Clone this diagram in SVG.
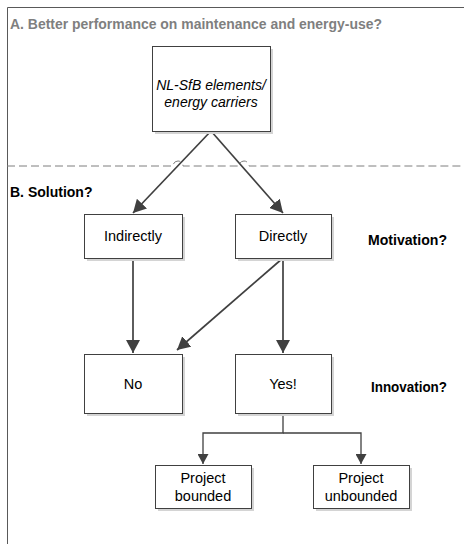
<svg xmlns="http://www.w3.org/2000/svg" width="464" height="544" viewBox="0 0 464 544">
<defs>
<marker id="ah" viewBox="0 0 10 10" refX="10" refY="5" markerWidth="13" markerHeight="14" markerUnits="userSpaceOnUse" orient="auto" preserveAspectRatio="none"><path d="M0,0 L10,5 L0,10 z" fill="#404040"/></marker>
<marker id="ahs" viewBox="0 0 10 10" refX="10" refY="5" markerWidth="10" markerHeight="11" markerUnits="userSpaceOnUse" orient="auto" preserveAspectRatio="none"><path d="M0,0 L10,5 L0,10 z" fill="#404040"/></marker>
</defs>
<style>
.box{fill:#fff;stroke:#404040;stroke-width:1}
.sh{fill:#d4d4d4}
.t{font-family:"Liberation Sans",Arial,sans-serif;font-size:14.5px;fill:#000;text-anchor:middle}
.it{font-style:italic;font-size:14px}
.lbl{font-family:"Liberation Sans",Arial,sans-serif;font-size:14px;font-weight:bold;fill:#000}
.c{fill:none;stroke:#404040;stroke-width:1.7}
.cs{fill:none;stroke:#404040;stroke-width:1.3}
</style>
<rect width="464" height="544" fill="#fff"/>
<path d="M7.5,544 V7.5 H464" fill="none" stroke="#595959" stroke-width="1"/>
<path d="M7,166 H173 a5,5 0 0 1 10,0 H239 a5,5 0 0 1 10,0 H464" fill="none" stroke="#7f7f7f" stroke-width="1" stroke-dasharray="8,4"/>
<text x="10" y="29" class="lbl" style="fill:#7f7f7f" textLength="372" lengthAdjust="spacingAndGlyphs">A. Better performance on maintenance and energy-use?</text>
<text x="10" y="197" class="lbl">B.  Solution?</text>
<text x="368" y="245" class="lbl" textLength="79" lengthAdjust="spacingAndGlyphs">Motivation?</text>
<text x="371" y="392" class="lbl" textLength="76" lengthAdjust="spacingAndGlyphs">Innovation?</text>
<g id="connectors">
<path class="c" d="M211,131 L133,213" marker-end="url(#ah)"/>
<path class="c" d="M211,131 L283,213" marker-end="url(#ah)"/>
<path class="c" d="M133,258 V353" marker-end="url(#ah)"/>
<path class="c" d="M283,258 V353" marker-end="url(#ah)"/>
<path class="c" d="M283,258 L177,350" marker-end="url(#ah)"/>
<path class="cs" d="M283,413 V433 H203 V464" marker-end="url(#ahs)"/>
<path class="cs" d="M283,433 H361 V464" marker-end="url(#ahs)"/>
</g>
<g id="top">
<rect class="sh" x="155" y="49" width="118" height="85"/>
<rect class="box" x="152.5" y="46.5" width="118" height="85"/>
<text class="t it" x="211" y="90">NL-SfB elements/</text>
<text class="t it" x="211" y="107">energy carriers</text>
</g>
<g id="indirectly">
<rect class="sh" x="87" y="217" width="98" height="44"/>
<rect class="box" x="84.5" y="214.5" width="98" height="44"/>
<text class="t" x="133" y="241">Indirectly</text>
</g>
<g id="directly">
<rect class="sh" x="238" y="217" width="96" height="44"/>
<rect class="box" x="235.5" y="214.5" width="96" height="44"/>
<text class="t" x="283" y="241">Directly</text>
</g>
<g id="no">
<rect class="sh" x="87" y="357" width="98" height="59"/>
<rect class="box" x="84.5" y="354.5" width="98" height="59"/>
<text class="t" x="133" y="389">No</text>
</g>
<g id="yes">
<rect class="sh" x="238" y="357" width="96" height="59"/>
<rect class="box" x="235.5" y="354.5" width="96" height="59"/>
<text class="t" x="283" y="389">Yes!</text>
</g>
<g id="bounded">
<rect class="sh" x="158" y="468" width="96" height="43"/>
<rect class="box" x="155.5" y="465.5" width="96" height="43"/>
<text class="t" x="203" y="483">Project</text>
<text class="t" x="203" y="501">bounded</text>
</g>
<g id="unbounded">
<rect class="sh" x="316" y="468" width="96" height="43"/>
<rect class="box" x="313.5" y="465.5" width="96" height="43"/>
<text class="t" x="361" y="483">Project</text>
<text class="t" x="361" y="501">unbounded</text>
</g>
</svg>
